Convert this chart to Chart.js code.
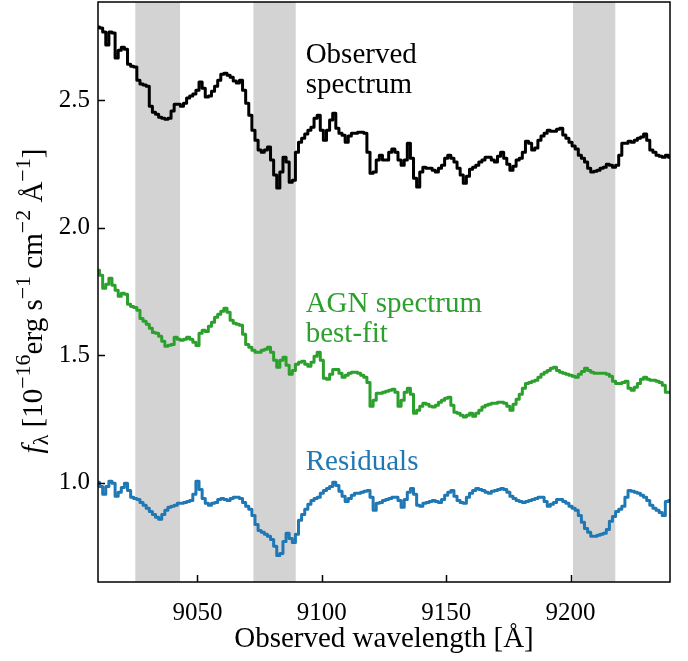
<!DOCTYPE html>
<html>
<head>
<meta charset="utf-8">
<script src="https://cdn.jsdelivr.net/npm/chart.js@4.4.1/dist/chart.umd.min.js"></script>
<style>
  html, body { margin: 0; padding: 0; background: #fff; }
  canvas { display: block; }
</style>
</head>
<body>
<canvas id="spec" width="688" height="661"></canvas>
<script>
// wavelength grid of the extracted spectrum (Angstrom)
const lamStart = 9010;
const lamStep = 1.25;

// flux density, 1e-16 erg/s/cm2/A
const observed = [
  2.787, 2.783, 2.767, 2.716, 2.767, 2.763, 2.665, 2.696, 2.708, 2.700,
  2.641, 2.633, 2.630, 2.578, 2.563, 2.559, 2.555, 2.476, 2.453, 2.445,
  2.433, 2.429, 2.425, 2.429, 2.457, 2.484, 2.484, 2.476, 2.488, 2.508,
  2.516, 2.524, 2.539, 2.571, 2.547, 2.512, 2.516, 2.535, 2.555, 2.578,
  2.602, 2.606, 2.598, 2.590, 2.575, 2.567, 2.578, 2.539, 2.488, 2.441,
  2.382, 2.343, 2.304, 2.296, 2.304, 2.316, 2.265, 2.206, 2.155, 2.218,
  2.276, 2.257, 2.178, 2.186, 2.296, 2.335, 2.351, 2.367, 2.382, 2.394,
  2.429, 2.441, 2.382, 2.343, 2.382, 2.422, 2.449, 2.390, 2.370, 2.362,
  2.335, 2.359, 2.370, 2.370, 2.374, 2.374, 2.370, 2.296, 2.213, 2.218,
  2.265, 2.284, 2.265, 2.265, 2.296, 2.308, 2.296, 2.265, 2.245, 2.265,
  2.331, 2.272, 2.194, 2.159, 2.218, 2.237, 2.233, 2.233, 2.225, 2.218,
  2.233, 2.245, 2.272, 2.284, 2.272, 2.257, 2.233, 2.206, 2.174, 2.202,
  2.229, 2.237, 2.245, 2.257, 2.265, 2.276, 2.276, 2.265, 2.257, 2.280,
  2.296, 2.272, 2.249, 2.225, 2.241, 2.265, 2.272, 2.296, 2.339, 2.331,
  2.304, 2.312, 2.343, 2.359, 2.370, 2.382, 2.378, 2.378, 2.386, 2.390,
  2.363, 2.351, 2.335, 2.320, 2.308, 2.284, 2.272, 2.257, 2.233, 2.218,
  2.221, 2.225, 2.233, 2.237, 2.249, 2.245, 2.237, 2.245, 2.284, 2.331,
  2.331, 2.339, 2.335, 2.343, 2.351, 2.355, 2.367, 2.343, 2.304, 2.296,
  2.284, 2.280, 2.276, 2.284, 2.276
];

const agnFit = [
  1.833, 1.813, 1.762, 1.778, 1.801, 1.774, 1.754, 1.731, 1.743, 1.739,
  1.699, 1.691, 1.687, 1.676, 1.644, 1.633, 1.621, 1.605, 1.589, 1.586,
  1.574, 1.554, 1.535, 1.539, 1.542, 1.570, 1.562, 1.558, 1.562, 1.570,
  1.562, 1.550, 1.538, 1.586, 1.597, 1.593, 1.613, 1.629, 1.648, 1.660,
  1.672, 1.684, 1.668, 1.637, 1.625, 1.621, 1.617, 1.582, 1.542, 1.531,
  1.519, 1.511, 1.511, 1.519, 1.523, 1.531, 1.511, 1.480, 1.452, 1.480,
  1.492, 1.460, 1.425, 1.440, 1.464, 1.472, 1.476, 1.464, 1.456, 1.472,
  1.495, 1.511, 1.480, 1.409, 1.405, 1.425, 1.444, 1.444, 1.429, 1.413,
  1.421, 1.429, 1.433, 1.433, 1.429, 1.421, 1.413, 1.393, 1.299, 1.323,
  1.350, 1.350, 1.354, 1.358, 1.362, 1.366, 1.354, 1.299, 1.323, 1.354,
  1.370, 1.346, 1.272, 1.284, 1.299, 1.311, 1.307, 1.299, 1.296, 1.303,
  1.315, 1.323, 1.331, 1.335, 1.303, 1.276, 1.272, 1.264, 1.257, 1.264,
  1.272, 1.260, 1.272, 1.284, 1.296, 1.303, 1.307, 1.311, 1.311, 1.315,
  1.315, 1.311, 1.299, 1.284, 1.307, 1.327, 1.346, 1.370, 1.389, 1.393,
  1.397, 1.401, 1.413, 1.425, 1.433, 1.440, 1.448, 1.452, 1.440, 1.433,
  1.429, 1.425, 1.421, 1.417, 1.413, 1.425, 1.436, 1.448, 1.440, 1.433,
  1.429, 1.429, 1.429, 1.429, 1.425, 1.417, 1.397, 1.389, 1.389, 1.393,
  1.397, 1.370, 1.362, 1.374, 1.389, 1.405, 1.413, 1.405, 1.401, 1.401,
  1.397, 1.393, 1.382, 1.354, 1.354
];

const residuals = [
  1.001, 0.985, 0.954, 0.985, 1.005, 0.997, 0.946, 0.962, 0.981, 0.997,
  0.969, 0.942, 0.938, 0.934, 0.922, 0.911, 0.899, 0.887, 0.875, 0.864,
  0.856, 0.875, 0.891, 0.903, 0.907, 0.911, 0.919, 0.919, 0.922, 0.926,
  0.930, 0.954, 1.005, 0.973, 0.938, 0.919, 0.911, 0.919, 0.922, 0.934,
  0.938, 0.934, 0.930, 0.938, 0.942, 0.942, 0.938, 0.922, 0.907, 0.895,
  0.871, 0.836, 0.812, 0.805, 0.797, 0.789, 0.777, 0.750, 0.714, 0.722,
  0.769, 0.801, 0.781, 0.765, 0.797, 0.852, 0.875, 0.895, 0.915, 0.930,
  0.938, 0.942, 0.958, 0.969, 0.977, 0.985, 1.001, 0.989, 0.966, 0.946,
  0.926, 0.938, 0.950, 0.958, 0.958, 0.962, 0.966, 0.969, 0.942, 0.891,
  0.919, 0.922, 0.930, 0.934, 0.938, 0.942, 0.942, 0.930, 0.903, 0.934,
  0.962, 0.977, 0.954, 0.911, 0.907, 0.919, 0.922, 0.926, 0.930, 0.926,
  0.922, 0.934, 0.950, 0.962, 0.969, 0.946, 0.930, 0.922, 0.919, 0.942,
  0.958, 0.969, 0.977, 0.973, 0.969, 0.962, 0.958, 0.966, 0.969, 0.973,
  0.977, 0.973, 0.962, 0.946, 0.938, 0.930, 0.926, 0.922, 0.926, 0.930,
  0.934, 0.938, 0.942, 0.942, 0.926, 0.907, 0.915, 0.922, 0.934, 0.934,
  0.926, 0.919, 0.907, 0.899, 0.891, 0.871, 0.844, 0.820, 0.805, 0.789,
  0.789, 0.793, 0.797, 0.801, 0.816, 0.848, 0.867, 0.887, 0.895, 0.907,
  0.942, 0.969, 0.966, 0.962, 0.958, 0.950, 0.942, 0.930, 0.911, 0.899,
  0.891, 0.883, 0.871, 0.926, 0.930
];

// wavelength windows excluded from the fit
const maskedRanges = [[9025, 9043], [9072.5, 9089.5], [9201, 9218]];

const xTicks = [9050, 9100, 9150, 9200];
const yTicks = [1.0, 1.5, 2.0, 2.5];

// in-panel captions: text lines, colour, anchor (first baseline) in data units
const captions = [
  { lines: ['Observed', 'spectrum'], color: '#000000', x: 9093.5, y: 2.645 },
  { lines: ['AGN spectrum', 'best-fit'], color: '#2ca02c', x: 9093.5, y: 1.668 },
  { lines: ['Residuals'], color: '#1f77b4', x: 9093.5, y: 1.048 }
];

const SERIF = '"Liberation Serif", "Times New Roman", serif';
const wavelength = observed.map((_, i) => lamStart + i * lamStep);
const toPoints = (arr) => arr.map((v, i) => ({ x: wavelength[i], y: v }));

const lineStyle = (color) => ({
  borderColor: color,
  borderWidth: 3,
  pointRadius: 0,
  stepped: 'middle',
  fill: false,
  borderJoinStyle: 'round'
});

// grey bands behind the spectra
const bandsPlugin = {
  id: 'bands',
  beforeDatasetsDraw(chart) {
    const { ctx, chartArea: a, scales: { x } } = chart;
    ctx.save();
    ctx.fillStyle = '#d3d3d3';
    maskedRanges.forEach(([lo, hi]) => {
      const x0 = x.getPixelForValue(lo);
      const x1 = x.getPixelForValue(hi);
      ctx.fillRect(x0, a.top, x1 - x0, a.bottom - a.top);
    });
    ctx.restore();
  }
};

// box, inward ticks and captions
const framePlugin = {
  id: 'frame',
  afterDatasetsDraw(chart) {
    const { ctx, chartArea: a, scales: { x, y } } = chart;
    ctx.save();
    ctx.strokeStyle = '#000';
    ctx.lineWidth = 1.5;
    ctx.strokeRect(a.left, a.top, a.right - a.left, a.bottom - a.top);
    ctx.beginPath();
    xTicks.forEach(v => {
      const px = Math.round(x.getPixelForValue(v)) + 0.5;
      ctx.moveTo(px, a.bottom);
      ctx.lineTo(px, a.bottom - 7);
    });
    yTicks.forEach(v => {
      const py = Math.round(y.getPixelForValue(v)) + 0.5;
      ctx.moveTo(a.left, py);
      ctx.lineTo(a.left + 7, py);
    });
    ctx.stroke();

    ctx.font = '29px ' + SERIF;
    ctx.textAlign = 'left';
    ctx.textBaseline = 'alphabetic';
    captions.forEach(c => {
      ctx.fillStyle = c.color;
      const px = x.getPixelForValue(c.x);
      const py = y.getPixelForValue(c.y);
      c.lines.forEach((t, k) => ctx.fillText(t, px, py + k * 29.5));
    });
    ctx.restore();
  }
};

// rotated y label with sub/superscripts
const yLabelPlugin = {
  id: 'ylabel',
  afterDraw(chart) {
    const { ctx } = chart;
    const size = 29, small = 22;
    const parts = [
      { t: 'f', s: size, dy: 0, it: true },
      { t: 'λ', s: small, dy: 6 },
      { t: ' [10', s: size, dy: 0 },
      { t: '−16', s: small, dy: -12 },
      { t: 'erg s', s: size, dy: 0 },
      { t: '−1', s: small, dy: -12 },
      { t: ' cm', s: size, dy: 0 },
      { t: '−2', s: small, dy: -12 },
      { t: ' Å', s: size, dy: 0 },
      { t: '−1', s: small, dy: -12 },
      { t: ']', s: size, dy: 0 }
    ];
    const fontOf = p => (p.it ? 'italic ' : '') + p.s + 'px ' + SERIF;
    let total = 0;
    parts.forEach(p => { ctx.font = fontOf(p); p.w = ctx.measureText(p.t).width; total += p.w; });
    ctx.save();
    ctx.translate(42, 301);
    ctx.rotate(-Math.PI / 2);
    ctx.fillStyle = '#000';
    ctx.textBaseline = 'alphabetic';
    let cx = -total / 2;
    parts.forEach(p => {
      ctx.font = fontOf(p);
      ctx.fillText(p.t, cx, p.dy);
      cx += p.w;
    });
    ctx.restore();
  }
};

new Chart(document.getElementById('spec'), {
  type: 'line',
  data: {
    datasets: [
      { label: 'Observed spectrum', data: toPoints(observed), ...lineStyle('#000000') },
      { label: 'AGN spectrum best-fit', data: toPoints(agnFit), ...lineStyle('#2ca02c') },
      { label: 'Residuals', data: toPoints(residuals), ...lineStyle('#1f77b4') }
    ]
  },
  options: {
    responsive: false,
    animation: false,
    layout: { padding: { top: 2, right: 18, left: 0, bottom: 0 } },
    plugins: {
      legend: { display: false },
      tooltip: { enabled: false }
    },
    scales: {
      x: {
        type: 'linear',
        min: 9010,
        max: 9240,
        afterBuildTicks: s => { s.ticks = xTicks.map(v => ({ value: v })); },
        afterFit: s => { s.height = 79; s.paddingLeft = 0; s.paddingRight = 0; },
        grid: { display: false, drawTicks: false },
        border: { display: false },
        ticks: {
          padding: 16,
          color: '#000',
          maxRotation: 0,
          font: { family: SERIF, size: 25 },
          callback: v => String(v)
        },
        title: {
          display: true,
          text: 'Observed wavelength [Å]',
          color: '#000',
          font: { family: SERIF, size: 29 },
          padding: { top: 0, bottom: 4 }
        }
      },
      y: {
        type: 'linear',
        min: 0.61,
        max: 2.885,
        afterBuildTicks: s => { s.ticks = yTicks.map(v => ({ value: v })); },
        afterFit: s => { s.width = 98; s.paddingTop = 0; s.paddingBottom = 0; },
        grid: { display: false, drawTicks: false },
        border: { display: false },
        ticks: {
          padding: 8,
          color: '#000',
          font: { family: SERIF, size: 25 },
          callback: v => v.toFixed(1)
        }
      }
    }
  },
  plugins: [bandsPlugin, framePlugin, yLabelPlugin]
});
</script>
</body>
</html>
